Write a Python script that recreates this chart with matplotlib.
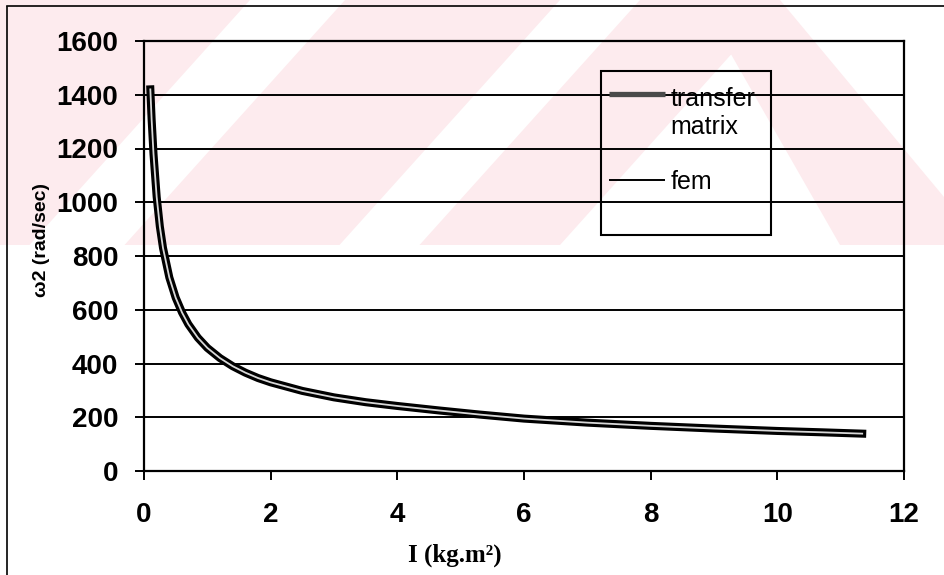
import matplotlib
matplotlib.use("Agg")
import matplotlib.pyplot as plt
import matplotlib.patheffects as pe
from matplotlib.lines import Line2D
from matplotlib.patches import Rectangle, Polygon
from matplotlib.legend_handler import HandlerLine2D

# ---- data ----
inertia = [0.10, 0.12, 0.15, 0.20, 0.25, 0.30, 0.40, 0.50, 0.60, 0.70, 0.85,
           1.00, 1.20, 1.40, 1.60, 1.80, 2.00, 2.50, 3.00, 3.50, 4.00, 4.67,
           5.30, 6.00, 7.00, 8.00, 9.00, 10.00, 10.70, 11.34]
omega_tm = [1420, 1310, 1180, 1020, 910, 830, 720, 645, 590, 546, 496,
            458, 420, 390, 366, 346, 330, 298, 274, 256, 242, 225,
            210, 195, 180, 168, 158, 149, 144, 139]
omega_fem = [1420, 1310, 1180, 1020, 910, 830, 720, 645, 590, 546, 496,
             458, 420, 390, 366, 346, 330, 298, 274, 256, 242, 225,
             210, 195, 180, 168, 158, 149, 144, 139]
xticks = [0, 2, 4, 6, 8, 10, 12]
yticks = [0, 200, 400, 600, 800, 1000, 1200, 1400, 1600]
series_labels = ["transfer\nmatrix", "fem"]

W, H = 944, 575
fig = plt.figure(figsize=(W / 100, H / 100), dpi=100)
fig.patch.set_facecolor("white")


def px(points):
    return [(x / W, 1 - y / H) for x, y in points]


# faint background watermark of the scanned page (decoration only)
PINK = "#fdebee"
fig.patches.append(Polygon(px([(0, 0), (780, 0), (560, 245), (0, 245)]),
                           closed=True, transform=fig.transFigure,
                           facecolor=PINK, edgecolor="none", zorder=-10))
for x0, x1 in [(250, 345), (560, 640)]:
    fig.patches.append(Polygon(px([(x0, 0), (x1, 0), (x1 - 0.9 * 245, 245),
                                   (x0 - 0.9 * 245, 245)]),
                               closed=True, transform=fig.transFigure,
                               facecolor="white", edgecolor="none", zorder=-9))
fig.patches.append(Polygon(px([(700, 0), (780, 0), (944, 197), (944, 245),
                               (840, 245)]),
                           closed=True, transform=fig.transFigure,
                           facecolor=PINK, edgecolor="none", zorder=-8))

ax = fig.add_axes([144 / W, 1 - 471 / H, (904 - 144) / W, (471 - 41) / H])
ax.set_facecolor("none")

# fem: thin black line (lies within the transfer-matrix band)
ax.plot(inertia, omega_fem, color="black", lw=1.2, zorder=3)
# transfer matrix: thick band drawn as double line
ax.plot(inertia, omega_tm, color="#d8d8d8", lw=1.3, zorder=4,
        solid_capstyle="projecting", solid_joinstyle="round",
        path_effects=[pe.Stroke(linewidth=5.8, foreground="black",
                                capstyle="projecting", joinstyle="round"),
                      pe.Normal()])

ax.set_xlim(0, 12)
ax.set_ylim(0, 1600)
ax.set_xticks(xticks)
ax.set_yticks(yticks)
ax.set_xticklabels([str(v) for v in xticks])
ax.set_yticklabels([str(v) for v in yticks])

ax.yaxis.grid(True, color="black", lw=1.4)
ax.set_axisbelow(True)
for s in ax.spines.values():
    s.set_color("black")
    s.set_linewidth(1.6)

ax.tick_params(axis="both", direction="out", length=6.5, width=1.4, color="black")
ax.tick_params(axis="y", pad=12)
ax.tick_params(axis="x", pad=16)
for lab in ax.get_xticklabels() + ax.get_yticklabels():
    lab.set_fontfamily("Liberation Sans")
    lab.set_fontweight("bold")
    lab.set_fontsize(20)

# axis titles
fig.text(455 / W, 1 - 555 / H, "I (kg.m²)", ha="center", va="center",
         fontfamily="Liberation Serif", fontweight="bold", fontsize=18)
fig.text(42 / W, 1 - 240 / H, "ω2 (rad/sec)", ha="center", va="center",
         rotation=90, fontfamily="Liberation Sans", fontweight="bold", fontsize=14)


class TopLineHandler(HandlerLine2D):
    """Places the legend line level with the first line of a two-line label."""
    def __init__(self, dy=0.0, **kw):
        super().__init__(**kw)
        self.dy = dy

    def create_artists(self, legend, orig_handle, xdescent, ydescent,
                       width, height, fontsize, trans):
        arts = super().create_artists(legend, orig_handle, xdescent, ydescent,
                                      width, height, fontsize, trans)
        for a in arts:
            a.set_ydata([y + self.dy for y in a.get_ydata()])
        return arts


# legend
h_tm = Line2D([], [], color="#4a4a4a", lw=3.8, solid_capstyle="butt")
h_fem = Line2D([], [], color="black", lw=1.4, solid_capstyle="butt")
leg = fig.legend([h_tm, h_fem], series_labels, loc="upper left",
                 bbox_to_anchor=(609 / W, 1 - 87 / H), frameon=False,
                 prop={"family": "Liberation Sans", "size": 18},
                 handlelength=2.25, handletextpad=0.2, labelspacing=1.25,
                 borderaxespad=0, borderpad=0,
                 handler_map={h_tm: TopLineHandler(dy=14)})
fig.patches.append(Rectangle((601 / W, 1 - 235 / H), 170 / W, 164 / H,
                             transform=fig.transFigure, fill=False,
                             edgecolor="black", lw=1.5, zorder=5))

# outer chart-area frame
fig.add_artist(Line2D([7 / W, 7 / W], [0, 1 - 7 / H], color="black", lw=1.2,
                      transform=fig.transFigure))
fig.add_artist(Line2D([7 / W, 1], [1 - 6 / H, 1 - 6 / H], color="black", lw=1.2,
                      transform=fig.transFigure))

fig.savefig("out.png", dpi=100)
